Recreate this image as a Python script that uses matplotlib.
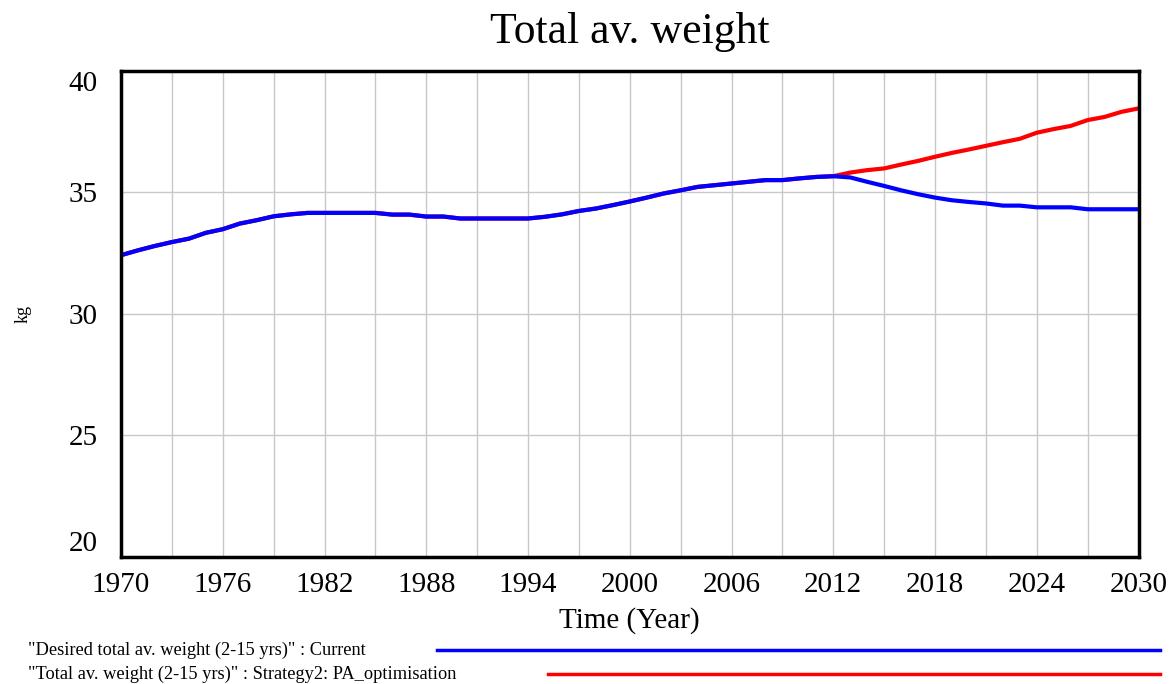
import numpy as np
import matplotlib.pyplot as plt
from matplotlib.lines import Line2D

plt.rcParams['font.family'] = ['Liberation Serif', 'DejaVu Serif']

# shared history 1970-2012
years_hist = list(range(1970, 2013))
hist = [32.42, 32.62, 32.80, 32.96, 33.10, 33.34, 33.49, 33.72, 33.86, 34.02,
        34.10, 34.16, 34.16, 34.16, 34.16, 34.16, 34.09, 34.09, 34.01, 34.01,
        33.93, 33.93, 33.93, 33.93, 33.93, 34.00, 34.10, 34.24, 34.34, 34.48,
        34.63, 34.79, 34.96, 35.09, 35.23, 35.30, 35.37, 35.44, 35.51, 35.51,
        35.58, 35.64, 35.67]

years_fut = list(range(2013, 2031))
current_fut = [35.62, 35.44, 35.27, 35.09, 34.93, 34.79, 34.68, 34.61, 34.55,
               34.46, 34.46, 34.39, 34.39, 34.39, 34.31, 34.31, 34.31, 34.31]
strategy_fut = [35.82, 35.92, 35.99, 36.15, 36.30, 36.47, 36.63, 36.77, 36.92,
                37.07, 37.21, 37.46, 37.61, 37.74, 37.98, 38.11, 38.32, 38.46]

years = np.array(years_hist + years_fut)
current = np.array(hist + current_fut)
strategy = np.array(hist + strategy_fut)

x_ticks = list(range(1970, 2031, 6))
y_ticks = [20, 25, 30, 35, 40]
legend_labels = ['"Desired total av. weight (2-15 yrs)" : Current',
                 '"Total av. weight (2-15 yrs)" : Strategy2: PA_optimisation']
colors = ['#0000ff', '#ff0000']

fig = plt.figure(figsize=(11.73, 6.84), dpi=100)
ax = fig.add_axes([0.1032, 0.1857, 0.8674, 0.7105])

ax.plot(years, strategy, color=colors[1], lw=3, solid_capstyle='butt')
ax.plot(years, current, color=colors[0], lw=3, solid_capstyle='butt')

ax.set_xlim(1970, 2030)
ax.set_ylim(20, 40)
ax.set_xticks(x_ticks)
ax.set_xticks(range(1970, 2031, 3), minor=True)
ax.set_yticks(y_ticks)
ax.grid(True, which='both', color='#c8c8c8', lw=1)
ax.tick_params(which='both', length=0)
ax.tick_params(axis='x', labelsize=21, pad=11)
ax.tick_params(axis='y', labelsize=21, pad=17)
for lab in ax.get_yticklabels():
    if lab.get_text() == '40':
        lab.set_va('top')
    elif lab.get_text() == '20':
        lab.set_va('bottom')
for s in ax.spines.values():
    s.set_linewidth(2.5)
    s.set_color('black')

ax.set_title('Total av. weight', fontsize=31.5, pad=20)
ax.set_xlabel('Time (Year)', fontsize=21, labelpad=6)
ax.set_ylabel('kg', fontsize=13)
ax.yaxis.set_label_coords(-0.088, 0.5)

# legend at the bottom: text on the left, line sample to the right
line_starts = [437, 548]
ys = [650, 674]
for lab, col, x0, yy in zip(legend_labels, colors, line_starts, ys):
    fig.text(28 / 1173, 1 - yy / 684, lab, fontsize=13.2, va='center', ha='left')
    fig.add_artist(Line2D([x0 / 1173, 1160 / 1173], [1 - yy / 684, 1 - yy / 684],
                          color=col, lw=2.5, transform=fig.transFigure))

fig.savefig('out.png', dpi=100)
